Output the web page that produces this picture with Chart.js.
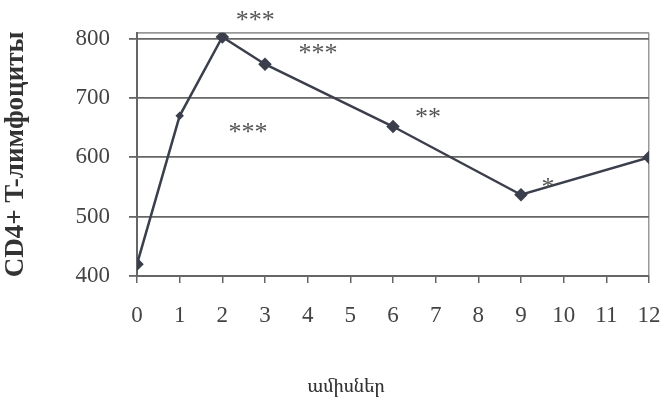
<!DOCTYPE html>
<html>
<head>
<meta charset="utf-8">
<script src="https://cdn.jsdelivr.net/npm/chart.js@4/dist/chart.umd.min.js"></script>
<style>
  html, body { margin: 0; padding: 0; background: #fff; }
  #wrap { width: 665px; height: 404px; }
</style>
</head>
<body>
<div id="wrap"><canvas id="cd4-chart" width="665" height="404"></canvas></div>
<script>
// months after start, CD4+ counts
const months = [0, 1, 2, 3, 6, 9, 12];
const cd4 = [420, 670, 803, 757, 652, 537, 600];
const yTicks = [400, 500, 600, 700, 800, 810];

// significance marks and where they sit (data units)
const sigText = ['***', '***', '***', '**', '*'];
const sigX = [2.77, 4.24, 2.6, 6.82, 9.63];
const sigY = [838, 783, 649, 674, 557];

const xTitle = 'ամիսներ';

const serif = '"Liberation Serif", serif';
const lineColor = '#3b3f4c';
const gridColor = '#666';

const sigPlugin = {
  id: 'sig',
  afterDatasetsDraw(chart) {
    const ctx = chart.ctx;
    const xs = chart.scales.x, ys = chart.scales.y;
    ctx.save();
    ctx.font = '26px ' + serif;
    ctx.fillStyle = '#555';
    ctx.textAlign = 'center';
    ctx.textBaseline = 'middle';
    sigText.forEach((t, i) => {
      ctx.fillText(t, xs.getPixelForValue(sigX[i]), ys.getPixelForValue(sigY[i]) + 5);
    });
    // x axis title, sits left of centre in the original
    ctx.font = '18px "Noto Serif Armenian", "DejaVu Serif", serif';
    ctx.fillStyle = '#333';
    ctx.fillText(xTitle, xs.getPixelForValue(4.9), 387);
    ctx.restore();
  }
};

const cd4Chart = new Chart(document.getElementById('cd4-chart'), {
  type: 'line',
  data: {
    datasets: [{
      label: 'CD4+',
      data: months.map((m, i) => ({ x: m, y: cd4[i] })),
      borderColor: lineColor,
      backgroundColor: lineColor,
      borderWidth: 2.5,
      pointStyle: 'rectRot',
      pointRadius: ctx => ctx.dataIndex === 1 ? 2.5 : 5,
      tension: 0
    }]
  },
  options: {
    responsive: false,
    animation: false,
    layout: { padding: { top: 31, right: 0, left: 0, bottom: 0 } },
    plugins: {
      legend: { display: false },
      tooltip: { enabled: false }
    },
    scales: {
      x: {
        type: 'linear',
        min: 0,
        max: 12,
        afterFit: s => { s.height = 128; s.paddingRight = 16; s.paddingLeft = 0; },
        ticks: {
          stepSize: 1,
          padding: 19,
          color: '#444',
          font: { family: serif, size: 23 }
        },
        grid: {
          color: c => c.tick && c.tick.value === 12 ? '#999' : 'rgba(0,0,0,0)',
          tickColor: gridColor,
          tickLength: 7,
          lineWidth: 1.5
        },
        border: { color: gridColor, width: 2 }
      },
      y: {
        min: 400,
        max: 810,
        afterFit: s => { s.width = 137; },
        afterBuildTicks: s => { s.ticks = yTicks.map(v => ({ value: v })); },
        ticks: {
          padding: 19,
          color: '#444',
          font: { family: serif, size: 23 },
          callback: v => v === 810 ? '' : v
        },
        grid: {
          color: c => c.tick && c.tick.value === 810 ? '#999' : gridColor,
          tickColor: c => c.tick && c.tick.value === 810 ? 'rgba(0,0,0,0)' : gridColor,
          tickLength: 8,
          lineWidth: 1.8
        },
        border: { color: gridColor, width: 2 },
        title: {
          display: true,
          text: 'CD4+ T-лимфоциты',
          color: '#333',
          font: { family: serif, size: 27, weight: 'bold' },
          padding: { top: 0 }
        }
      }
    }
  },
  plugins: [sigPlugin]
});
</script>
</body>
</html>
